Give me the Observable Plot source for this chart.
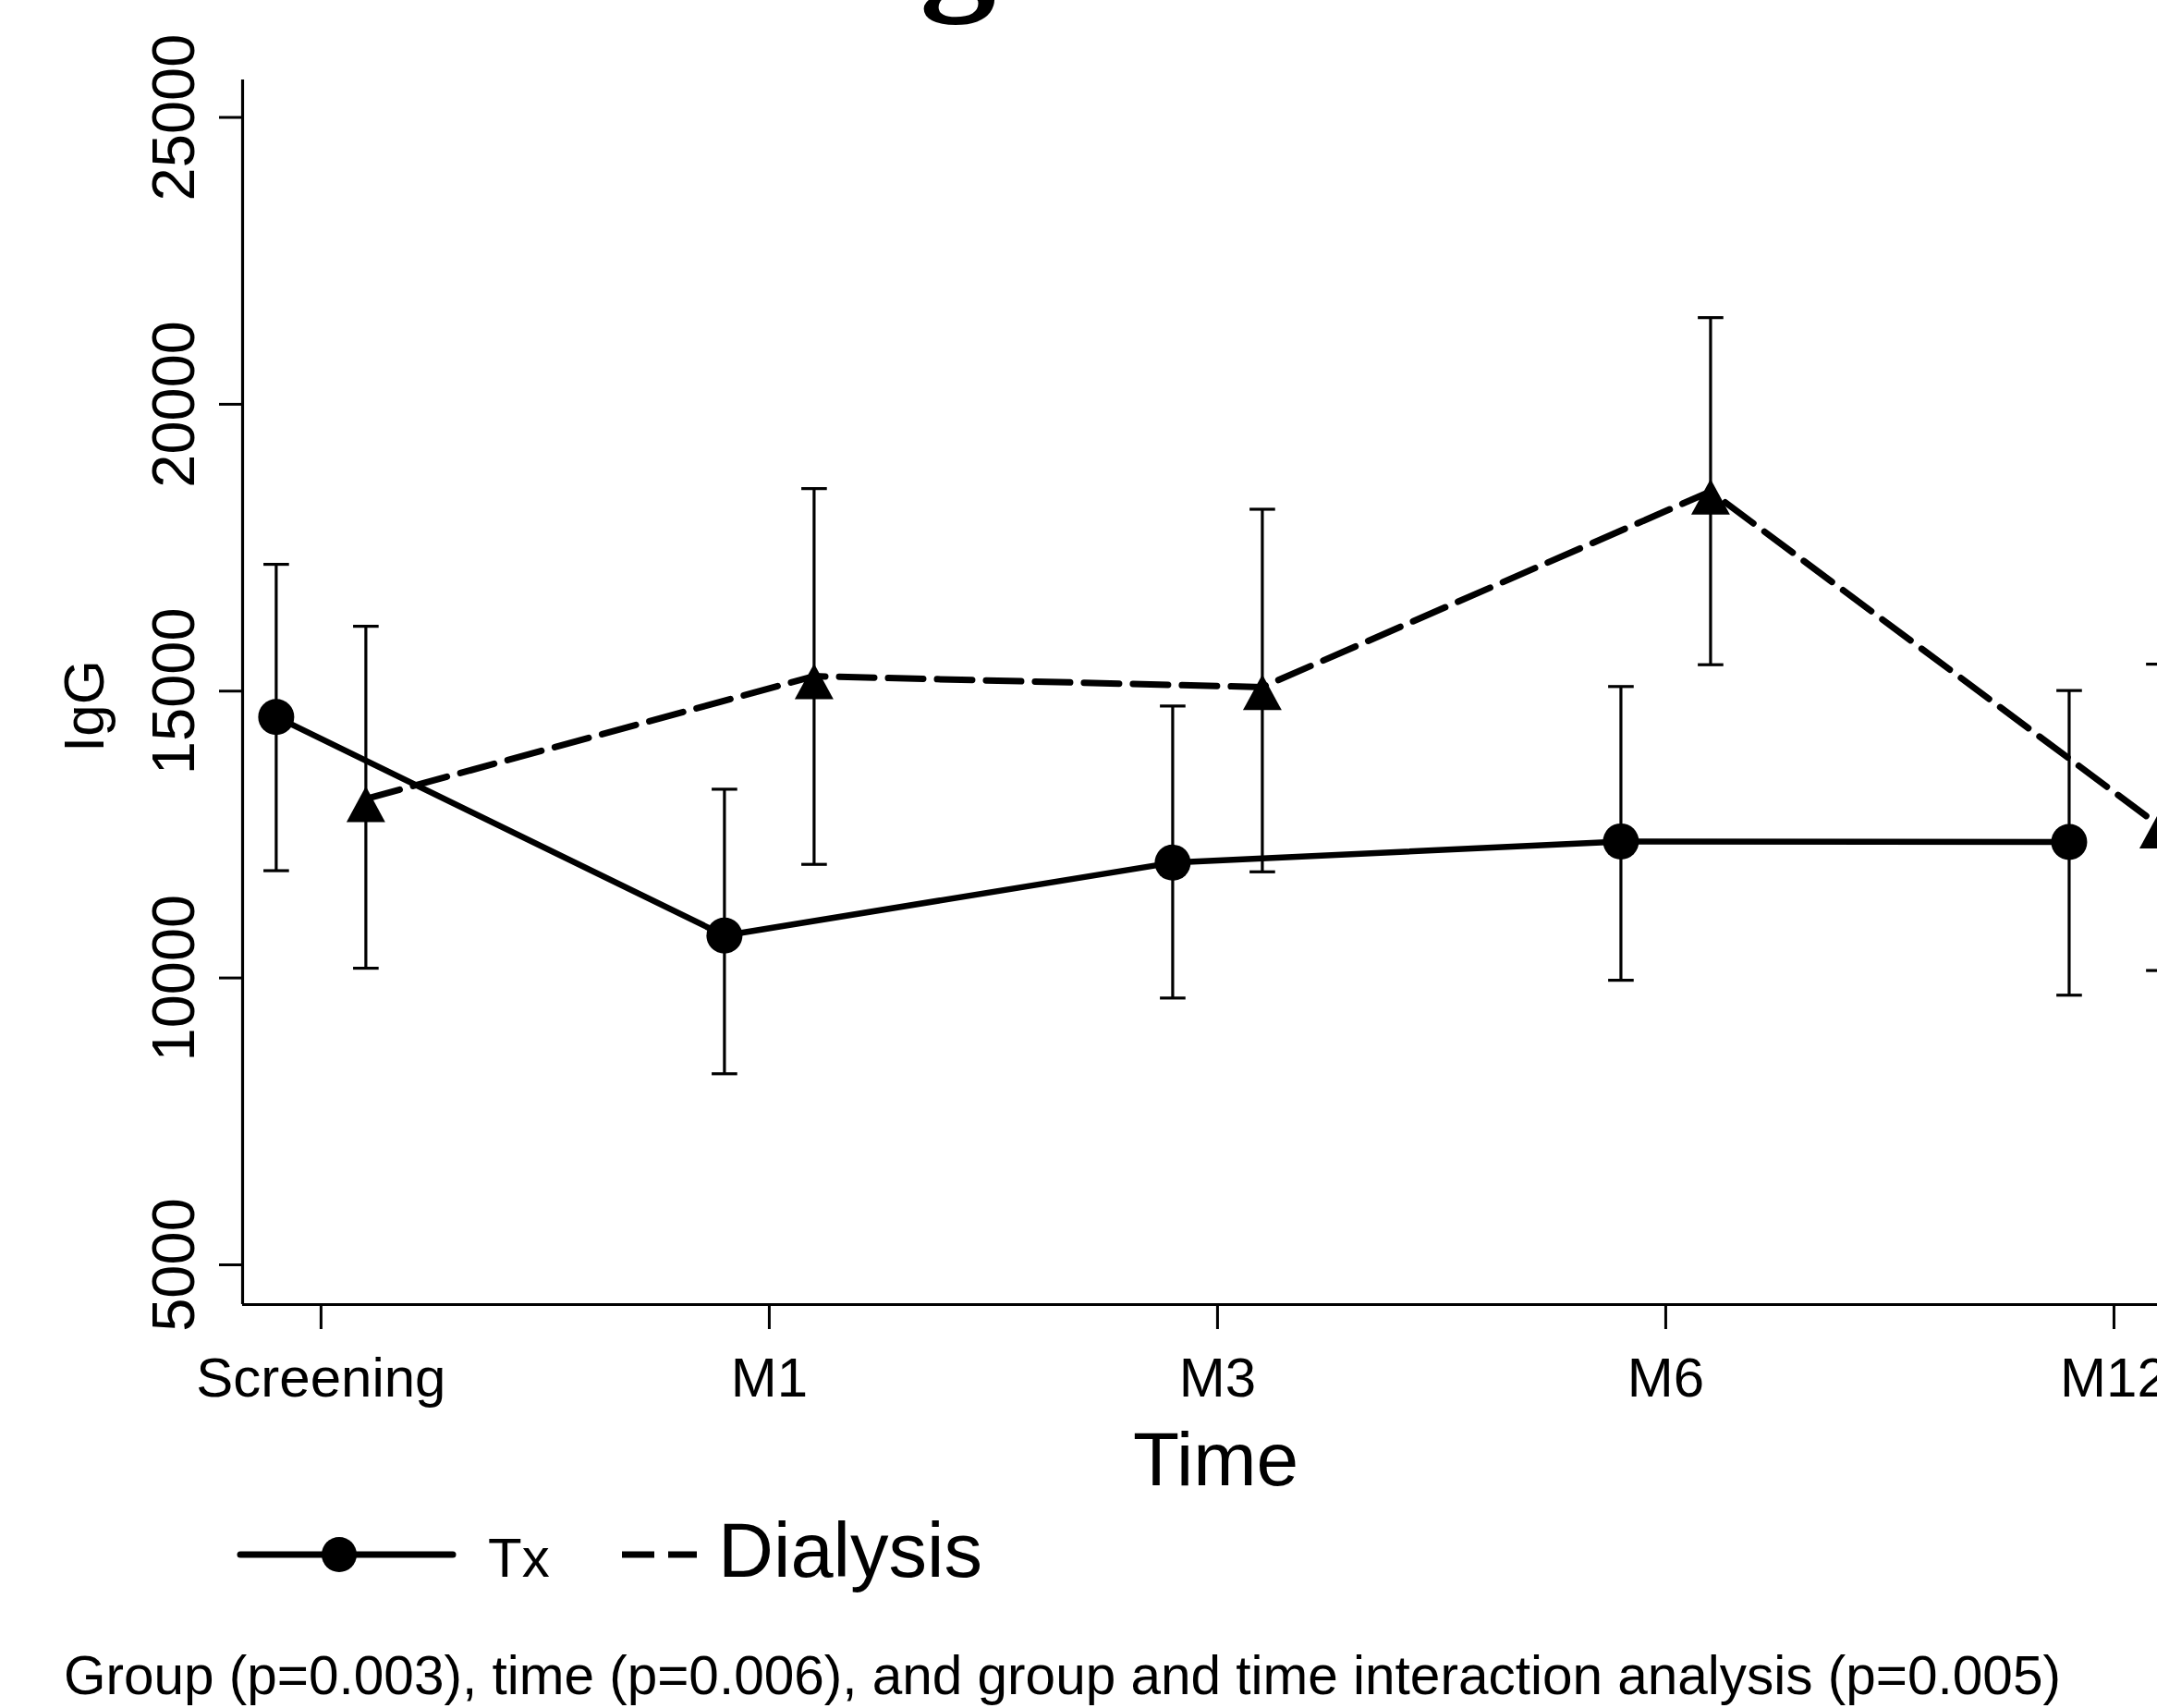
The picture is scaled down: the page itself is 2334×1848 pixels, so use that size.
<!DOCTYPE html>
<html>
<head>
<meta charset="utf-8">
<script src="https://cdn.jsdelivr.net/npm/d3@7"></script>
<script src="https://cdn.jsdelivr.net/npm/@observablehq/plot@0.6"></script>
<style>
html, body { margin: 0; padding: 0; background: #fff; overflow: hidden; width: 2334px; height: 1848px; }
#wrap { position: relative; width: 2334px; height: 1848px; font-family: "Liberation Sans", Arial, sans-serif; }
#chart { position: absolute; left: 0; top: 0; }
#overlay { position: absolute; left: 0; top: 0; overflow: visible; pointer-events: none; }
</style>
</head>
<body>
<div id="wrap">
  <div id="chart"></div>
  <svg id="overlay" width="2334" height="1848" xmlns="http://www.w3.org/2000/svg">
    <text x="931" y="-10" font-family="Liberation Serif, Times New Roman, serif" font-weight="bold" font-size="165" fill="#000">IgG</text>
    <g id="legend">
      <line x1="260" x2="490" y1="1682" y2="1682" stroke="#000" stroke-width="7" stroke-linecap="round"/>
      <circle cx="367" cy="1682" r="19" fill="#000"/>
      <text x="528" y="1706" font-family="Liberation Sans, Arial, sans-serif" font-size="60" fill="#000">Tx</text>
      <line x1="673" x2="754" y1="1682" y2="1682" stroke="#000" stroke-width="7" stroke-dasharray="35,15"/>
      <text x="777" y="1706" font-family="Liberation Sans, Arial, sans-serif" font-size="83" fill="#000">Dialysis</text>
    </g>
    <text x="69" y="1833" font-family="Liberation Sans, Arial, sans-serif" font-size="58.5" fill="#000">Group (p=0.003), time (p=0.006), and group and time interaction analysis (p=0.005)</text>
  </svg>
</div>
<script>
// ---- data ----
const timeLabels = ["Screening", "M1", "M3", "M6", "M12"];
const groups = ["Tx", "Dialysis"];

const txMean  = [14550, 10740, 12010, 12380, 12370];
const txLower = [11870,  8330,  9650,  9960,  9700];
const txUpper = [17210, 13290, 14740, 15080, 15010];

const dialysisMean  = [13120, 15260, 15070, 18480, 12660];
const dialysisLower = [10170, 11980, 11850, 15460, 10130];
const dialysisUpper = [16130, 18530, 18170, 21510, 15470];

const yTicks = [5000, 10000, 15000, 20000, 25000];

// ---- table for Plot ----
const rows = [];
timeLabels.forEach((t, i) => {
  rows.push({group: "Tx", time: t, idx: i, mean: txMean[i], lo: txLower[i], hi: txUpper[i]});
  rows.push({group: "Dialysis", time: t, idx: i, mean: dialysisMean[i], lo: dialysisLower[i], hi: dialysisUpper[i]});
});
const txRows = rows.filter(d => d.group === "Tx");
const diaRows = rows.filter(d => d.group === "Dialysis");

// dodge of the two groups around each time point (x units)
const dodge = {Tx: -0.1, Dialysis: 0.1};
const X = d => d.idx + dodge[d.group];
const capHalf = 0.0285;

const xDomain = [-0.175, 4.097];
const yDomain = [4307, 25653];

const triSymbol = {
  draw(ctx, size) {
    const s = Math.sqrt(size / Math.PI);
    ctx.moveTo(0, -0.85 * s);
    ctx.lineTo(1.31 * s, 1.56 * s);
    ctx.lineTo(-1.31 * s, 1.56 * s);
    ctx.closePath();
  }
};

const chart = Plot.plot({
  width: 2334,
  height: 1640,
  marginLeft: 262,
  marginRight: 0,
  marginTop: 86,
  marginBottom: 229,
  x: {domain: xDomain},
  y: {domain: yDomain},
  style: {fontFamily: "Liberation Sans, Arial, sans-serif", color: "#000", background: "transparent"},
  marks: [
    Plot.ruleX([xDomain[0]], {stroke: "#000", strokeWidth: 3.2}),
    Plot.ruleY([yDomain[0]], {stroke: "#000", strokeWidth: 3.2}),
    Plot.axisY({ticks: yTicks, tickSize: 25, tickFormat: () => "", strokeWidth: 3, label: null}),
    Plot.text(yTicks, {y: d => d, text: d => String(d), frameAnchor: "left", dx: -73, rotate: -90,
      textAnchor: "middle", lineAnchor: "middle", fontSize: 65, fill: "#000"}),
    Plot.axisX({ticks: [0, 1, 2, 3, 4], tickFormat: i => timeLabels[i], tickSize: 27, tickPadding: 30,
      fontSize: 60, strokeWidth: 3, label: null}),
    Plot.text(["Time"], {text: d => d, frameAnchor: "bottom", dx: 17, dy: 137, lineAnchor: "top",
      fontSize: 82, fill: "#000"}),
    Plot.text(["IgG"], {text: d => d, frameAnchor: "left", dx: -170, dy: 15, rotate: -90,
      textAnchor: "middle", lineAnchor: "middle", fontSize: 62, fill: "#000"}),
    // error bars
    Plot.ruleX(rows, {x: X, y1: "lo", y2: "hi", stroke: "#000", strokeWidth: 3.2}),
    Plot.link(rows, {x1: d => X(d) - capHalf, x2: d => X(d) + capHalf, y1: "hi", y2: "hi", stroke: "#000", strokeWidth: 3.2}),
    Plot.link(rows, {x1: d => X(d) - capHalf, x2: d => X(d) + capHalf, y1: "lo", y2: "lo", stroke: "#000", strokeWidth: 3.2}),
    // lines
    Plot.line(txRows, {x: X, y: "mean", stroke: "#000", strokeWidth: 6.5}),
    Plot.line(diaRows, {x: X, y: "mean", stroke: "#000", strokeWidth: 7, strokeDasharray: "38,15"}),
    // markers
    Plot.dot(txRows, {x: X, y: "mean", r: 19.5, fill: "#000", stroke: null}),
    Plot.dot(diaRows, {x: X, y: "mean", r: 16, symbol: triSymbol, fill: "#000", stroke: null})
  ]
});
document.getElementById("chart").appendChild(chart);
</script>
</body>
</html>
